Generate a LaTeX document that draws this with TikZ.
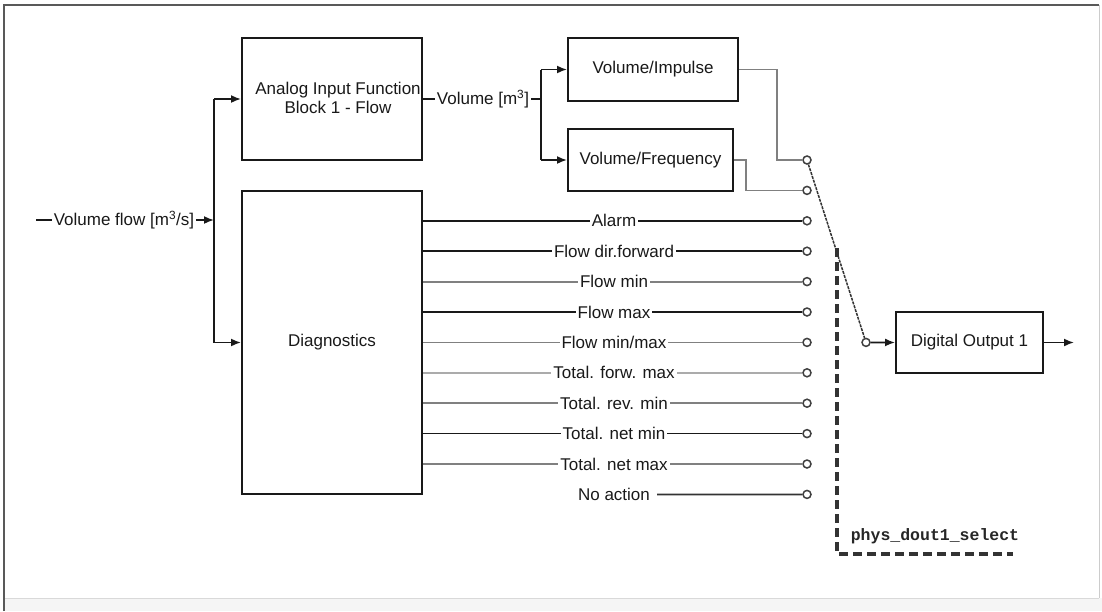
\documentclass[tikz,border=0pt]{standalone}
\usepackage{fontspec}
\setmainfont{Liberation Sans}
\newfontfamily\monofont{Liberation Mono}
\usetikzlibrary{arrows.meta}
\begin{document}
\begin{tikzpicture}[x=1pt,y=-1pt,
  txt/.style={font=\fontsize{17}{19}\selectfont, inner sep=0pt, text=black!90},
  blk/.style={draw=black!90, line width=2pt, inner sep=0pt, fill=white},
  lbl/.style={txt, fill=white, inner xsep=2pt, inner ysep=1pt},
  port/.style={circle, draw=black!75, line width=1.5pt, fill=white, minimum size=8pt, inner sep=0pt},
  wire/.style={line width=1.7pt, draw=black!90},
  gwire/.style={line width=1.8pt, draw=black!50},
  lwire/.style={line width=2.2pt, draw=black!33},
  arr/.style={-{Latex[length=10pt,width=8pt]}},
]
\useasboundingbox (0,0) rectangle (1102,611);
% frame
\fill[black!4] (4,598) rectangle (1102,611);
\draw[black!15, line width=0.8pt] (4,598) -- (1099,598);
\draw[black!20, line width=1pt] (1099,5) -- (1099,598);
\draw[black!65, line width=1.6pt] (4,611) -- (4,5) -- (1099,5);

% blocks
\node[blk, minimum width=180pt, minimum height=122pt] (analog) at (332,99) {};
\node[txt, align=center] (analogtxt) at (338,97.5) {Analog Input Function\\Block 1 - Flow};
\node[blk, minimum width=180pt, minimum height=303pt] (diag) at (332,342.5) {};
\node[txt] (diagtxt) at (332,342.5) {Diagnostics};
\node[blk, minimum width=170pt, minimum height=63pt, txt] (imp) at (653,69.5) {Volume/Impulse};
\node[blk, minimum width=165pt, minimum height=62pt, txt] (freq) at (650.5,160) {Volume/Frequency};
\node[blk, minimum width=147pt, minimum height=61pt, txt] (dout) at (969.5,342.5) {Digital Output 1};

% ports
\foreach \k in {0,...,11} \node[port] (c\k) at (807,{160+30.4*\k}) {};
\node[port] (cs) at (866,342.4) {};

% input
\coordinate (vfin) at (36,220);
\coordinate (jin) at (214,220);
\coordinate (jtop) at (214,99);
\coordinate (jbot) at (214,342.5);
\draw[wire, arr] (vfin) -- (jin);
\node[lbl] (vflbl) at (124,220) {Volume flow [m\textsuperscript{3}/s]};
\draw[wire] (jtop) -- (jbot);
\draw[wire, arr] (jtop) -- (analog.west |- jtop);
\draw[wire, arr] (jbot) -- (diag.west |- jbot);

% volume
\coordinate (jv) at (541,99);
\coordinate (jvt) at (541,69.5);
\coordinate (jvb) at (541,160);
\draw[wire] (analog.east |- jv) -- (jv);
\node[lbl] (vollbl) at (483,99) {Volume [m\textsuperscript{3}]};
\draw[wire] (jvt) -- (jvb);
\draw[wire, arr] (jvt) -- (imp.west);
\draw[wire, arr] (jvb) -- (freq.west);

% impulse / frequency outputs
\draw[gwire] (imp.east) -| (777,160) -- (c0.west);
\draw[gwire] (freq.east) -| (746,190.4) -- (c1.west);

% diagnostics outputs
\foreach \k/\s/\t in {2/wire/{Alarm}, 3/wire/{Flow dir.forward}, 4/gwire/{Flow min}, 5/wire/{Flow max},
  6/gwire/{Flow min/max}, 7/lwire/{Total. forw. max}, 8/gwire/{Total. rev. min},
  9/wire/{Total. net min}, 10/gwire/{Total. net max}}{
  \draw[\s] (diag.east |- c\k) -- (c\k.west);
  \node[lbl] (l\k) at (614,{160+30.4*\k}) {\t};
}
\node[txt] (l11) at (614,494.4) {No action};
\draw[wire, draw=black!80] ([xshift=7pt]l11.east) -- (c11.west);

% switch
\draw[line width=1.5pt, black!80, dash pattern=on 3pt off 1pt] (c0) -- (cs);
\draw[wire, arr] (cs.east) -- (dout.west);
\coordinate (dend) at (1074,342.5);
\draw[wire, arr] (dout.east) -- (dend);

% selection parameter
\coordinate (sa) at (837,248);
\coordinate (sb) at (837,554);
\coordinate (sc) at (1013,554);
\draw[line width=3.2pt, black!80, dash pattern=on 9pt off 5pt] (sa) -- (sb) -- (sc);
\node[inner sep=0pt, text=black!85, font=\monofont\bfseries\fontsize{16.5}{18}\selectfont] (sel) at (935,536) {phys\_dout1\_select};
\end{tikzpicture}
\end{document}
